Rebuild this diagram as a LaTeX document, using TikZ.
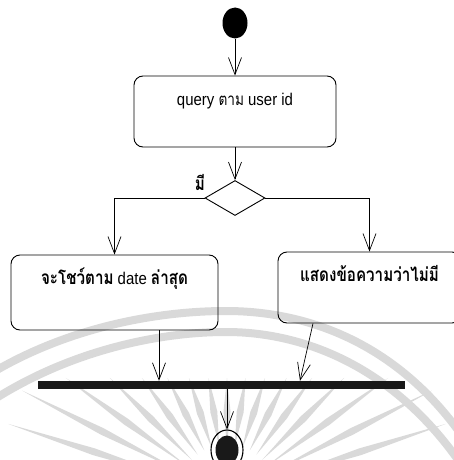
\documentclass[tikz,border=0pt]{standalone}
\usepackage{fontspec}
\setmainfont{Liberation Sans}[FakeStretch=0.88]
\newfontfamily\thaifont[Script=Thai,FakeStretch=0.8]{Loma}
\usetikzlibrary{arrows.meta,shapes.geometric,calc}
\definecolor{wmgray}{gray}{0.85}

\begin{document}
\begin{tikzpicture}[x=1pt,y=-1pt,
  wmband/.style={draw=wmgray, line width=8pt},
  actbox/.style={draw, line width=0.9pt, rounded corners=9pt, inner sep=0pt,
                 text height=12pt, font=\fontsize{17}{20}\selectfont},
  flow/.style={draw, line width=0.7pt,
               -{Straight Barb[length=17pt,width=13pt,line width=0.7pt]}},
  thaib/.style={font=\thaifont\bfseries\fontsize{19}{22}\selectfont},
]
\useasboundingbox (0,0) rectangle (453,460);

% faint sunburst emblem in the background
\draw[wmband] (-10,374) .. controls (70,326) and (160,311) .. (226,311)
              .. controls (310,311) and (400,345) .. (465,440);
\draw[wmband] (-10,402) .. controls (70,350) and (160,332) .. (226,332)
              .. controls (310,332) and (400,372) .. (465,470);
\coordinate (sun) at (227,495);
\foreach \a in {18,27,...,162}{
  \pgfmathsetmacro{\ro}{min(117/sin(\a),230)}
  \pgfmathsetmacro{\rm}{0.5*(50+\ro)}
  \fill[wmgray] ($(sun)+(-\a:50)$) -- ($(sun)+(-\a:\rm)+(-\a+90:3.5)$)
        -- ($(sun)+(-\a:\ro)$) -- ($(sun)+(-\a:\rm)+(-\a-90:3.5)$) -- cycle;
}

% activity nodes
\node[ellipse, fill, minimum width=25pt, minimum height=31pt, inner sep=0pt] (start) at (235,23) {};
\node[actbox, minimum width=202pt, minimum height=71pt, text depth=25pt] (query) at (235,111.5)
  {query {\thaifont ตาม} user id};
\node[draw, diamond, line width=0.9pt, minimum width=60pt, minimum height=35pt, inner sep=0pt] (dec) at (235,198) {};
\node[thaib] (yes) at (200,182) {มี};
\node[actbox, minimum width=207pt, minimum height=75pt, text depth=29pt] (left) at (114.5,292.5)
  {{\thaifont\bfseries\fontsize{19}{22}\selectfont จะโชว์ตาม} date {\thaifont\bfseries\fontsize{19}{22}\selectfont ล่าสุด}};
\node[actbox, minimum width=183pt, minimum height=71pt, text depth=25pt] (right) at (369.5,287.5)
  {{\thaifont\bfseries\fontsize{19}{22}\selectfont แสดงข้อความว่าไม่มี}};
\node[fill=black!90, minimum width=367pt, minimum height=8pt, inner sep=0pt] (bar) at (221.5,385) {};
\node[ellipse, draw, line width=1.1pt, minimum width=32pt, minimum height=40pt, inner sep=0pt] (end) at (227,450) {};
\node[ellipse, fill=black!90, minimum width=23pt, minimum height=29pt, inner sep=0pt] (endin) at (end.center) {};

% transitions
\draw[flow] (start) -- (query);
\draw[flow] (query) -- (dec);
\draw[flow] (dec.west) -| (left.north);
\draw[flow] (dec.east) -| (right.north);
\draw[flow] ([xshift=44.5pt]left.south) -- ([xshift=44.5pt]left.south |- bar.north);
\draw[flow] ([xshift=-56.5pt]right.south) -- ([xshift=78.5pt]bar.north);
\draw[flow] (bar.south -| end.north) -- (end.north);
\end{tikzpicture}
\end{document}
